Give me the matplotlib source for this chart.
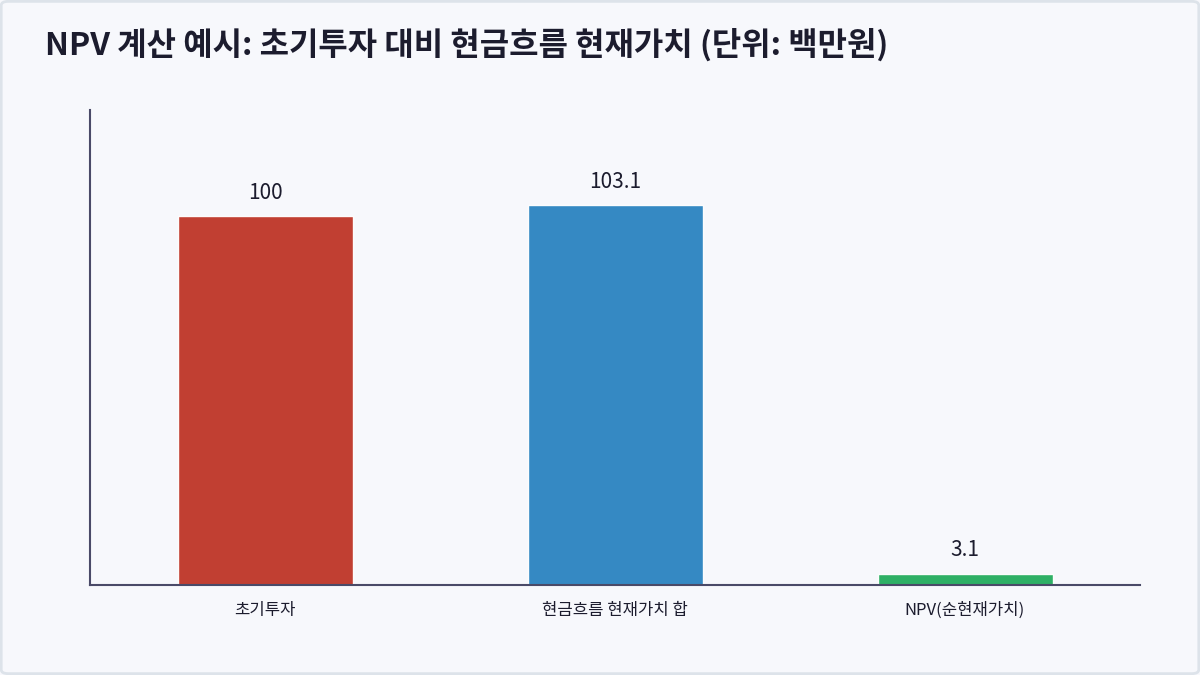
import numpy as np
import matplotlib.pyplot as plt
from matplotlib.patches import FancyBboxPatch

plt.rcParams['font.family'] = ['Noto Sans CJK KR', 'DejaVu Sans']

## data
categories = ['초기투자', '현금흐름 현재가치 합', 'NPV(순현재가치)']
values = [100, 103.1, 3.1]
value_labels = ['100', '103.1', '3.1']
colors = ['#c0392b', '#2e86c1', '#27ae60']

bg = '#f7f8fc'
ink = '#1c1c2e'

fig = plt.figure(figsize=(12, 6.75), dpi=100)
fig.patch.set_facecolor(bg)

## light frame round the card
frame = FancyBboxPatch((0.001, 0.002), 0.998, 0.996, boxstyle='round,pad=0,rounding_size=0.006',
                       transform=fig.transFigure, facecolor='none', edgecolor='#dde3ea', linewidth=2)
fig.patches.append(frame)

ax = fig.add_axes([90/1200, 1-585/675, 1050/1200, 475/675])
ax.set_facecolor(bg)

x = np.arange(len(categories))
bars = ax.bar(x, values, width=0.5, color=colors, edgecolor='white', linewidth=1, alpha=0.97)

for xi, v, lab in zip(x, values, value_labels):
    ax.annotate(lab, (xi, v), xytext=(0, 9), textcoords='offset points',
                ha='center', va='bottom', fontsize=15, fontweight='medium', color=ink)

ax.set_xlim(-0.5, 2.5)
ax.set_ylim(0, max(values) * 1.25)
ax.set_xticks(x)
ax.set_xticklabels(categories, fontsize=12, color=ink)
ax.tick_params(axis='x', length=0, pad=12)
ax.set_yticks([])

for side in ['top', 'right']:
    ax.spines[side].set_visible(False)
for side in ['left', 'bottom']:
    ax.spines[side].set_color('#4a4a68')
    ax.spines[side].set_linewidth(1.5)

fig.text(45/1200, 1-45/675, 'NPV 계산 예시: 초기투자 대비 현금흐름 현재가치 (단위: 백만원)',
         fontsize=23, fontweight='bold', color=ink, ha='left', va='center')

fig.savefig('out.png', dpi=100, facecolor=bg)
